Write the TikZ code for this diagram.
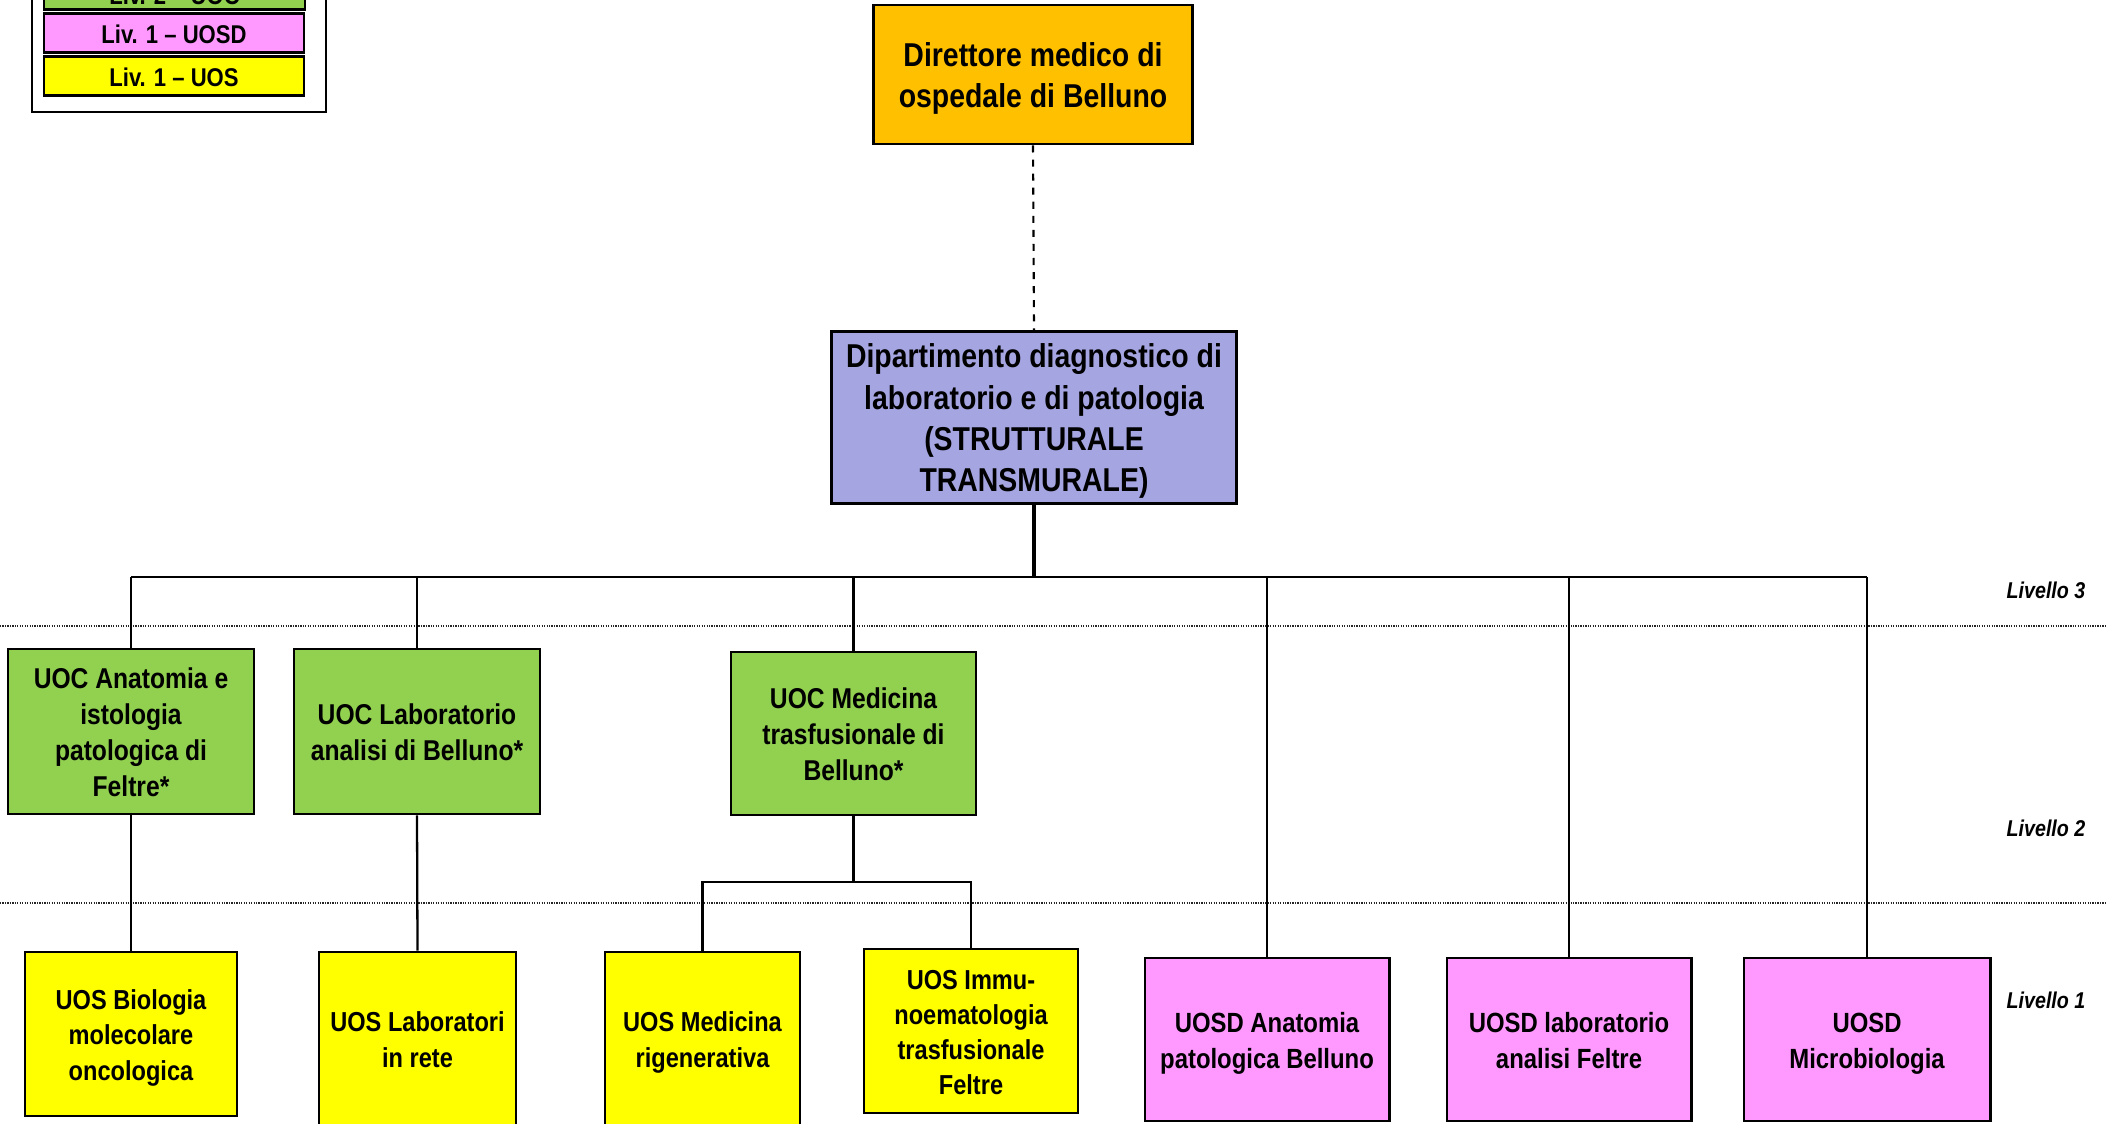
\documentclass[tikz,border=0pt]{standalone}
\usepackage{fontspec}
\setmainfont{Liberation Sans}[FakeStretch=0.86]
\definecolor{cDir}{RGB}{255,192,0}
\definecolor{cDep}{RGB}{165,165,225}
\definecolor{cUOC}{RGB}{146,208,80}
\definecolor{cUOSD}{RGB}{255,153,255}
\definecolor{cUOS}{RGB}{255,255,0}
\newcommand\tl[2][-1.1pt]{\raisebox{#1}[\height][\depth]{\begin{tabular}{@{}c@{}}#2\end{tabular}}}
\tikzset{
  box/.style={draw=black, line width=0.8pt, rectangle, align=center, inner sep=1pt, font=\bfseries},
  bigtext/.style={font=\bfseries\fontsize{9.4pt}{11.7pt}\selectfont},
  midtext/.style={font=\bfseries\fontsize{8.15pt}{10.2pt}\selectfont},
  pnktext/.style={font=\bfseries\fontsize{7.9pt}{10.2pt}\selectfont},
  smltext/.style={font=\bfseries\fontsize{7.8pt}{10pt}\selectfont},
  legtext/.style={font=\bfseries\fontsize{7.3pt}{9pt}\selectfont},
  lvltext/.style={font=\bfseries\itshape\fontsize{6.5pt}{8pt}\selectfont, anchor=east, inner sep=0pt},
  conn/.style={draw=black, line width=0.65pt},
  sepline/.style={draw=black!85, line width=0.5pt, dash pattern=on 0.35pt off 0.35pt},
}
\begin{document}
\begin{tikzpicture}[x=0.01cm, y=-0.01cm]
\useasboundingbox (0,0) rectangle (2107,1123);
\clip (0,0) rectangle (2107,1123);
\fill[white] (0,0) rectangle (2107,1123);

% legend
\node[draw=black, line width=0.6pt, minimum width=2.94cm, minimum height=2.0cm, inner sep=0pt] (legend) at (179,12) {};
\node[box, legtext, fill=cUOC, minimum width=2.61cm, minimum height=0.34cm] (legUOC) at (174.5,-10) {\tl[-2.2pt]{Liv. 2 – UOC}};
\node[box, legtext, fill=cUOSD, minimum width=2.60cm, minimum height=0.34cm] (legUOSD) at (174,33) {\tl{Liv. 1 – UOSD}};
\node[box, legtext, fill=cUOS, minimum width=2.60cm, minimum height=0.34cm] (legUOS) at (174,76) {\tl{Liv. 1 – UOS}};

% separators
\coordinate (s3l) at (0,626); \coordinate (s3r) at (2107,626);
\coordinate (s2l) at (0,903); \coordinate (s2r) at (2107,903);
\draw[sepline] (s3l) -- (s3r);
\draw[sepline] (s2l) -- (s2r);

% top boxes
\node[box, bigtext, fill=cDir, minimum width=3.19cm, minimum height=1.39cm] (dir) at (1033,74.5) {\tl{Direttore medico di\\ospedale di Belluno}};
\node[box, bigtext, fill=cDep, minimum width=4.04cm, minimum height=1.71cm] (dep) at (1034,417.5) {\tl{Dipartimento diagnostico di\\laboratorio e di patologia\\(STRUTTURALE\\TRANSMURALE)}};

% level 2
\node[box, midtext, fill=cUOC, minimum width=2.46cm, minimum height=1.65cm] (uoc1) at (131,731.5) {\tl{UOC Anatomia e\\istologia\\patologica di\\Feltre*}};
\node[box, midtext, fill=cUOC, minimum width=2.46cm, minimum height=1.65cm] (uoc2) at (417,731.5) {\tl{UOC Laboratorio\\analisi di Belluno*}};
\node[box, midtext, fill=cUOC, minimum width=2.45cm, minimum height=1.63cm] (uoc3) at (853.5,733.5) {\tl{UOC Medicina\\trasfusionale di\\Belluno*}};

% level 1 UOS
\node[box, smltext, fill=cUOS, minimum width=2.12cm, minimum height=1.64cm] (uos1) at (131,1034) {\tl{UOS Biologia\\molecolare\\oncologica}};
\node[box, smltext, fill=cUOS, minimum width=1.97cm, minimum height=1.73cm] (uos2) at (417.5,1038.5) {\tl{UOS Laboratori\\in rete}};
\node[box, smltext, fill=cUOS, minimum width=1.95cm, minimum height=1.73cm] (uos3) at (702.5,1038.5) {\tl{UOS Medicina\\rigenerativa}};
\node[box, smltext, fill=cUOS, minimum width=2.14cm, minimum height=1.64cm] (uos4) at (971,1031) {\tl{UOS Immu-\\noematologia\\trasfusionale\\Feltre}};

% level 1 UOSD
\node[box, pnktext, fill=cUOSD, minimum width=2.44cm, minimum height=1.63cm] (uosd1) at (1267,1039.5) {\tl{UOSD Anatomia\\patologica Belluno}};
\node[box, pnktext, fill=cUOSD, minimum width=2.44cm, minimum height=1.63cm] (uosd2) at (1569,1039.5) {\tl{UOSD laboratorio\\analisi Feltre}};
\node[box, pnktext, fill=cUOSD, minimum width=2.46cm, minimum height=1.63cm] (uosd3) at (1867,1039.5) {\tl{UOSD\\Microbiologia}};

% level labels
\node[lvltext] (lv3) at (2086,590) {Livello 3};
\node[lvltext] (lv2) at (2086,828) {Livello 2};
\node[lvltext] (lv1) at (2086,1000) {Livello 1};

% connectors
\draw[draw=black, line width=0.6pt, dash pattern=on 2pt off 2pt] (dir.south) -- (dep.north);
\coordinate (busc) at (1034,577);
\coordinate (busl) at (131,577);
\coordinate (busr) at (1867,577);
\draw[black, line width=0.9pt] (dep.south) -- (busc);
\draw[conn] (busl) -- (busr);
\draw[conn] (busl) -- (uoc1.north);
\draw[conn] (uoc2.north |- busl) -- (uoc2.north);
\draw[conn] (uoc3.north |- busl) -- (uoc3.north);
\draw[conn] (uosd1.north |- busl) -- (uosd1.north);
\draw[conn] (uosd2.north |- busl) -- (uosd2.north);
\draw[conn] (busr) -- (uosd3.north);

\draw[conn] (uoc1.south) -- (uos1.north);
\draw[conn] (uoc2.south) -- (uos2.north);
\coordinate (sub) at (853.5,882);
\draw[conn] (uoc3.south) -- (sub);
\draw[conn] (uos3.north) -- (uos3.north |- sub) -- (uos4.north |- sub) -- (uos4.north);
\end{tikzpicture}
\end{document}
